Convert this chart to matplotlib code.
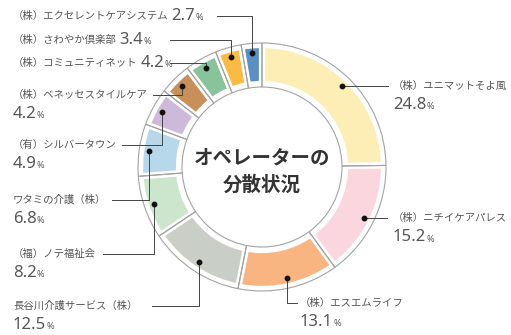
import numpy as np
import matplotlib.pyplot as plt

plt.rcParams['font.family'] = ['Noto Sans CJK JP', 'DejaVu Sans']

# shares, clockwise from 12 o'clock
names = ['（株）ユニマットそよ風', '（株）ニチイケアパレス', '（株）エスエムライフ',
         '長谷川介護サービス（株）', '（福）ノテ福祉会', 'ワタミの介護（株）',
         '（有）シルバータウン', '（株）ベネッセスタイルケア', '（株）コミュニティネット',
         '（株）さわやか倶楽部', '（株）エクセレントケアシステム']
shares = [24.8, 15.2, 13.1, 12.5, 8.2, 6.8, 4.9, 4.2, 4.2, 3.4, 2.7]
colors = ['#fdeeb6', '#fbd6de', '#f8b582', '#c9cfc7', '#cce6cd', '#b7d7eb',
          '#cdb9da', '#c98f59', '#88c49a', '#fbbb42', '#5b90c2']
center_title = ['オペレーターの', '分散状況']

# label layout (pixels, y from top)
lab_x = [393, 393, 300, 13, 13, 13, 13, 13, 13, 13, 13]
lab_y = [None, None, 303, 306, 254, 200, 145, 95, 63, 40, 16]
line_x = [388, 387, 297, 152, 103, 112, 122, 153, 170, 170, 217]
inline = [False] * 8 + [True] * 3

W, H = 511, 335
cx, cy = 262, H - 167

fig = plt.figure(figsize=(W / 100, H / 100), dpi=100)
ax = fig.add_axes([0, 0, 1, 1])

ax.pie(shares, colors=colors, startangle=90, counterclock=False,
       center=(cx, cy), radius=122,
       wedgeprops=dict(width=39, edgecolor='white', linewidth=4.5))
ax.pie(shares, startangle=90, counterclock=False, center=(cx, cy), radius=124,
       wedgeprops=dict(width=44, facecolor='none', edgecolor='#a3a3a3', linewidth=0.8))

ax.set_xlim(0, W)
ax.set_ylim(0, H)
ax.set_aspect('equal')
ax.axis('off')

cum = np.cumsum(shares) - np.array(shares) / 2
ang = np.deg2rad(90 - 360 * cum / 100)
dot_x = cx + 114 * np.cos(ang)
dot_y = cy + 114 * np.sin(ang)

txt_col = '#555555'
num_font = ['Noto Sans', 'DejaVu Sans']
for i, name in enumerate(names):
    if lab_y[i] is None:
        ty = dot_y[i]
        ax.plot([dot_x[i], line_x[i]], [ty, ty], color='#444444', lw=0.7)
    else:
        ty = H - lab_y[i]
        ax.plot([dot_x[i], dot_x[i], line_x[i]], [dot_y[i], ty, ty],
                color='#444444', lw=0.7)
    lab = ax.text(lab_x[i], ty, name, fontsize=7.5, color=txt_col,
                  ha='left', va='center')
    if inline[i]:
        num = ax.annotate(f'{shares[i]:.1f}', xy=(1, 0.5), xycoords=lab,
                          xytext=(2, 0), textcoords='offset points',
                          fontsize=12, color=txt_col, ha='left', va='center',
                          family=num_font)
    else:
        num = ax.text(lab_x[i], ty - 23, f'{shares[i]:.1f}', fontsize=12,
                      color=txt_col, ha='left', va='baseline', family=num_font)
    ax.annotate('%', xy=(1, 0.22), xycoords=num, xytext=(0, 0),
                textcoords='offset points', fontsize=6.5, color=txt_col,
                ha='left', va='baseline', family=num_font)

ax.plot(dot_x, dot_y, 'o', color='#111111', ms=3.2, zorder=5)

ax.text(cx, H - 158, center_title[0], fontsize=14, fontweight='bold',
        color='#333333', ha='center', va='center')
ax.text(cx, H - 185, center_title[1], fontsize=14, fontweight='bold',
        color='#333333', ha='center', va='center')

fig.savefig('out.png', dpi=100)
